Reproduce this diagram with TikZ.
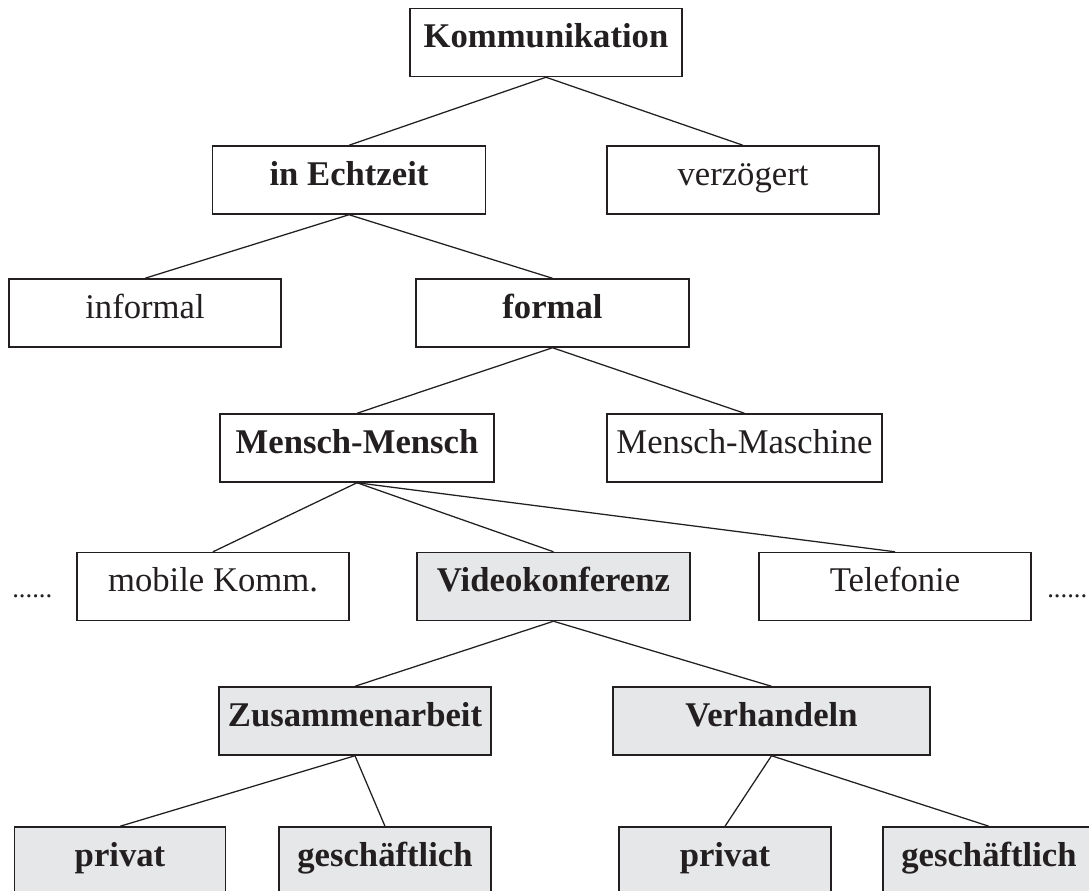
\documentclass[tikz,border=0pt]{standalone}
\usepackage{fontspec}
\setmainfont{Liberation Serif}
\definecolor{boxgray}{RGB}{230,231,232}
\definecolor{ink}{RGB}{35,31,32}
\begin{document}
\begin{tikzpicture}[x=0.75pt,y=-0.75pt,
  box/.style={draw=ink, line width=1.1pt, inner sep=0pt, minimum height=68*0.75pt,
    text height=0.95em, text depth=0.15em, font=\fontsize{26pt}{31pt}\selectfont, text=ink},
  hl/.style={box, fill=boxgray},
  link/.style={draw=ink, line width=0.95pt},
  dotsnode/.style={font=\fontsize{20pt}{24pt}\selectfont, text=ink, inner sep=0pt, anchor=base west}]
\useasboundingbox (0,0) rectangle (1089,890);
% level 1
\node[box, minimum width=272*0.75pt] (k) at (546,42.5) {\textbf{Kommunikation}};
% level 2
\node[box, minimum width=273*0.75pt] (e) at (349,180) {\textbf{in Echtzeit}};
\node[box, minimum width=272*0.75pt] (v) at (743,180) {verzögert};
% level 3
\node[box, minimum width=272*0.75pt] (inf) at (145,313) {informal};
\node[box, minimum width=273*0.75pt] (f) at (552.5,313) {\textbf{formal}};
% level 4
\node[box, minimum width=274*0.75pt] (mm) at (357,448) {\textbf{Mensch-Mensch}};
\node[box, minimum width=275*0.75pt] (mma) at (744.5,448) {Mensch-Maschine};
% level 5
\node[box, minimum width=272*0.75pt] (mob) at (213,586.5) {mobile Komm.};
\node[hl, minimum width=273*0.75pt] (vk) at (553.5,586.5) {\textbf{Videokonferenz}};
\node[box, minimum width=272*0.75pt] (tel) at (895,586.5) {Telefonie};
\node[dotsnode] (dl) at (12,597) {......};
\node[dotsnode] (dr) at (1047,597) {......};
% level 6
\node[hl, minimum width=272*0.75pt] (zus) at (355,721) {\textbf{Zusammenarbeit}};
\node[hl, minimum width=317*0.75pt] (ver) at (771.5,721) {\textbf{Verhandeln}};
% level 7
\node[hl, minimum width=211*0.75pt] (p1) at (120,861) {\textbf{privat}};
\node[hl, minimum width=212*0.75pt] (g1) at (385,861) {\textbf{geschäftlich}};
\node[hl, minimum width=212*0.75pt] (p2) at (725,861) {\textbf{privat}};
\node[hl, minimum width=212*0.75pt] (g2) at (989,861) {\textbf{geschäftlich}};
% connectors
\draw[link] (k.south) -- (e.north);
\draw[link] (k.south) -- (v.north);
\draw[link] (e.south) -- (inf.north);
\draw[link] (e.south) -- (f.north);
\draw[link] (f.south) -- (mm.north);
\draw[link] (f.south) -- (mma.north);
\draw[link] (mm.south) -- (mob.north);
\draw[link] (mm.south) -- (vk.north);
\draw[link] (mm.south) -- (tel.north);
\draw[link] (vk.south) -- (zus.north);
\draw[link] (vk.south) -- (ver.north);
\draw[link] (zus.south) -- (p1.north);
\draw[link] (zus.south) -- (g1.north);
\draw[link] (ver.south) -- (p2.north);
\draw[link] (ver.south) -- (g2.north);
\end{tikzpicture}
\end{document}
